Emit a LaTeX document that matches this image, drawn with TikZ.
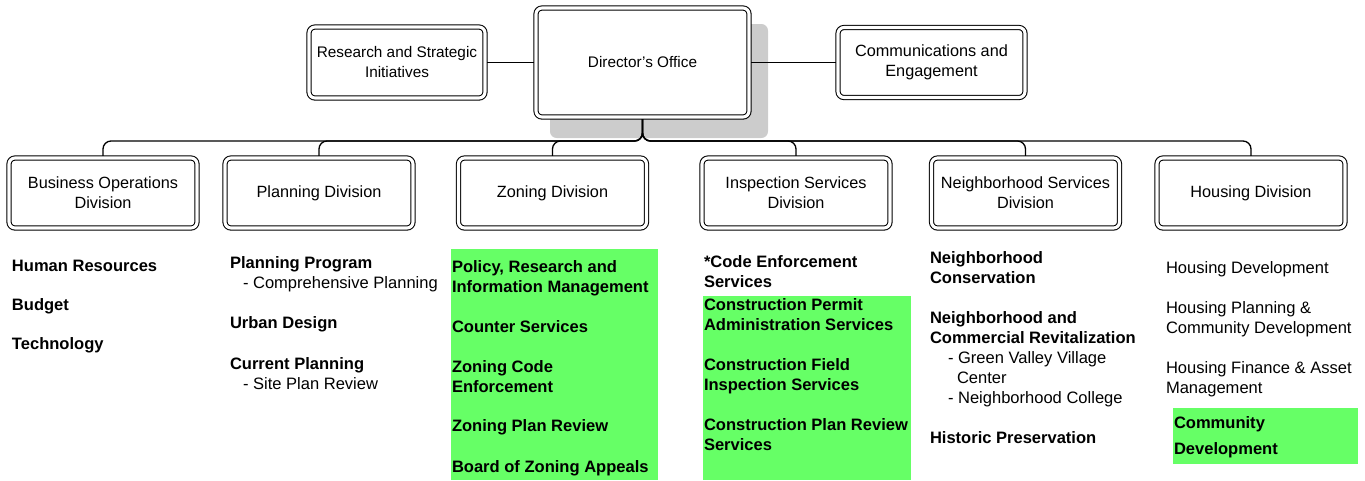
\documentclass[tikz,border=0pt]{standalone}
\usepackage{fontspec}
\setmainfont{Liberation Sans}
\usetikzlibrary{backgrounds}
\definecolor{hilite}{RGB}{102,255,102}
\definecolor{shadowgray}{RGB}{204,204,204}

\begin{document}
\begin{tikzpicture}[x=0.75pt,y=-0.75pt,
  orgbox/.style={draw=black, double=white, line width=0.8pt, double distance=2.3pt,
    fill=white, rounded corners=4.5pt, align=center, inner sep=0pt, outer sep=0pt,
    font=\fontsize{12.2}{15}\selectfont},
  smalltext/.style={font=\fontsize{11.5}{15}\selectfont},
  divbox/.style={orgbox, minimum width=141pt, minimum height=52.5pt},
  conn/.style={draw=black, line width=1pt, rounded corners=6pt},
  unit/.style={anchor=base west, inner sep=0pt, outer sep=0pt,
    font=\fontsize{12.4}{15}\selectfont\bfseries},
  sub/.style={anchor=base west, inner sep=0pt, outer sep=0pt,
    font=\fontsize{12.4}{15}\selectfont},
]
\useasboundingbox (0,0) rectangle (1365,480);

% highlighted groups of units
\fill[hilite] (451,249) rectangle (658,480);
\fill[hilite] (703,296) rectangle (911,480);
\fill[hilite] (1173,408) rectangle (1358,464);

% top level
\node[orgbox, smalltext, minimum width=132pt, minimum height=53.25pt] (res) at (397,62.5) {Research and Strategic\\Initiatives};
\node[orgbox, smalltext, minimum width=159.75pt, minimum height=81.75pt] (dir) at (642.5,62.5) {Director’s Office};
\node[orgbox, minimum width=140.25pt, minimum height=52.5pt] (com) at (931.5,62.5) {Communications and\\Engagement};

% divisions
\node[divbox] (bo) at (103,193) {Business Operations\\Division};
\node[divbox] (pl) at (319,193) {Planning Division};
\node[divbox] (zo) at (552.5,193) {Zoning Division};
\node[divbox] (in) at (796,193) {Inspection Services\\Division};
\node[divbox] (ne) at (1025.5,193) {Neighborhood Services\\Division};
\node[divbox] (ho) at (1251,193) {Housing Division};

\coordinate (bus) at (0,141);

\begin{pgfonlayer}{background}
  % drop shadow of the director box
  \fill[shadowgray, rounded corners=5pt] (550,24) rectangle (768,138);
  % connectors
  \draw[conn] (res.east) -- (dir.west);
  \draw[conn] (dir.east) -- (com.west);
  \foreach \d in {bo,pl,zo,in,ne,ho}
    \draw[conn] (dir.south) -- (dir.south |- bus) -| (\d.north);
\end{pgfonlayer}

% Business Operations
\node[unit] (bo1) at (12,271) {Human Resources};
\node[unit] (bo2) at (12,310) {Budget};
\node[unit] (bo3) at (12,349) {Technology};

% Planning
\node[unit] (pl1) at (230,268.5) {Planning Program};
\node[sub]  (pl1a) at (243,288.5) {- Comprehensive Planning};
\node[unit] (pl2) at (230,328) {Urban Design};
\node[unit] (pl3) at (230,369) {Current Planning};
\node[sub]  (pl3a) at (243,389) {- Site Plan Review};

% Zoning
\node[unit] (zo1) at (452,272) {Policy, Research and};
\node[unit] (zo1b) at (452,292) {Information Management};
\node[unit] (zo2) at (452,332) {Counter Services};
\node[unit] (zo3) at (452,372) {Zoning Code};
\node[unit] (zo3b) at (452,392) {Enforcement};
\node[unit] (zo4) at (452,431) {Zoning Plan Review};
\node[unit] (zo5) at (452,472) {Board of Zoning Appeals};

% Inspection Services
\node[unit] (in1) at (704,267) {*Code Enforcement};
\node[unit] (in1b) at (704,287) {Services};
\node[unit] (in2) at (704,310) {Construction Permit};
\node[unit] (in2b) at (704,330) {Administration Services};
\node[unit] (in3) at (704,370) {Construction Field};
\node[unit] (in3b) at (704,390) {Inspection Services};
\node[unit] (in4) at (704,430) {Construction Plan Review};
\node[unit] (in4b) at (704,450) {Services};

% Neighborhood Services
\node[unit] (ne1) at (930,263) {Neighborhood};
\node[unit] (ne1b) at (930,283) {Conservation};
\node[unit] (ne2) at (930,323) {Neighborhood and};
\node[unit] (ne2b) at (930,343) {Commercial Revitalization};
\node[sub]  (ne2c) at (948,363) {- Green Valley Village};
\node[sub]  (ne2d) at (957,383) {Center};
\node[sub]  (ne2e) at (948,403) {- Neighborhood College};
\node[unit] (ne3) at (930,443) {Historic Preservation};

% Housing
\node[sub]  (ho1) at (1166,273) {Housing Development};
\node[sub]  (ho2) at (1166,313) {Housing Planning \&};
\node[sub]  (ho2b) at (1166,333) {Community Development};
\node[sub]  (ho3) at (1166,373) {Housing Finance \& Asset};
\node[sub]  (ho3b) at (1166,393) {Management};
\node[unit] (ho4) at (1174,428) {Community};
\node[unit] (ho4b) at (1174,454) {Development};
\end{tikzpicture}
\end{document}
